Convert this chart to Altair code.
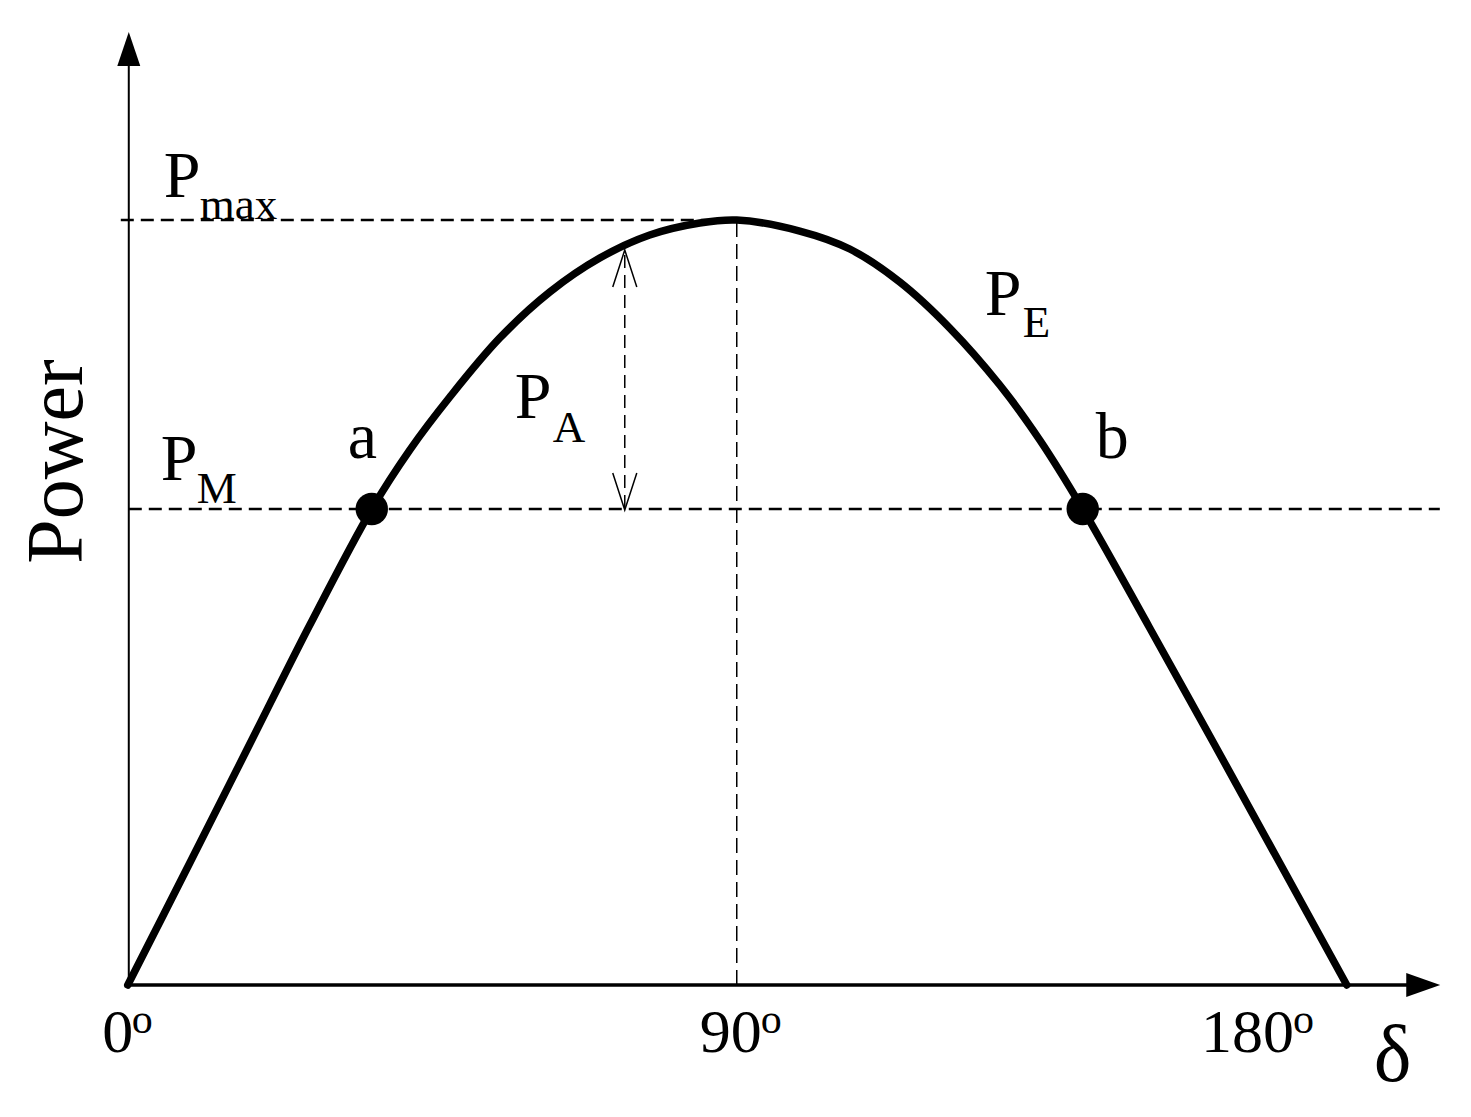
import altair as alt
import pandas as pd

# ---- data (delta in degrees, power normalised to Pmax = 1)
curve_delta = [0, 9.16, 18.03, 26.90, 36.06, 41.67, 47.59, 54.98, 62.37, 69.75, 77.14,
               84.53, 90.0, 99.31, 106.70, 114.09, 121.48, 128.87, 134.78, 141.13,
               151.03, 160.64, 170.25, 180.15]
curve_power = [0, 0.1595, 0.3150, 0.4706, 0.6222, 0.6993, 0.7686, 0.8458, 0.9059, 0.9503,
               0.9804, 0.9961, 1.0, 0.9856, 0.9621, 0.9190, 0.8588, 0.7843, 0.7124, 0.6222,
               0.4667, 0.3137, 0.1595, 0]
p_max = 1.0
p_m = 0.6222
point_names = ["a", "b"]
point_delta = [36.06, 141.13]
tick_labels = ["0", "90", "180"]

FONT = "Liberation Serif"
xs = alt.Scale(domain=[-17.7, 196.59], nice=False, zero=False)
ys = alt.Scale(domain=[-0.1542, 1.2771], nice=False, zero=False)
X = lambda f: alt.X(f, type="quantitative", scale=xs, axis=None)
Y = lambda f: alt.Y(f, type="quantitative", scale=ys, axis=None)

curve_df = pd.DataFrame({"d": curve_delta, "p": curve_power})
curve = alt.Chart(curve_df).mark_line(color="black", strokeWidth=7.5, strokeCap="round",
                                      strokeJoin="round", interpolate="catmull-rom").encode(
    x=X("d"), y=Y("p"), order="d:Q")

# axes lines
axes_df = pd.DataFrame({"x1": [0.15, 0.0], "x2": [0.15, 189.5],
                        "y1": [0.0, 0.0], "y2": [1.2013, 0.0], "w": [2.0, 3.5]})
axes = alt.Chart(axes_df).mark_rule(color="black").encode(
    x=X("x1"), x2="x2", y=Y("y1"), y2="y2",
    strokeWidth=alt.StrokeWidth("w:Q", scale=None))

arrow_y = alt.Chart(pd.DataFrame({"d": [0.15], "p": [1.2235]})).mark_point(
    shape="M-0.575,0.85L0.575,0.85L0,-0.85Z", size=1600, filled=True, color="black",
    opacity=1, strokeWidth=0).encode(x=X("d"), y=Y("p"))
arrow_x = alt.Chart(pd.DataFrame({"d": [191.45], "p": [0.0]})).mark_point(
    shape="M-0.85,-0.6L0.85,0L-0.85,0.6Z", size=1600, filled=True, color="black",
    opacity=1, strokeWidth=0).encode(x=X("d"), y=Y("p"))

# dashed guide lines
hdash_df = pd.DataFrame({"x1": [-1.03, 0.15], "x2": [90.0, 193.9], "y": [p_max, p_m]})
hdash = alt.Chart(hdash_df).mark_rule(color="black", strokeWidth=2.5, strokeDash=[13, 7]).encode(
    x=X("x1"), x2="x2", y=Y("y"))
vdash = alt.Chart(pd.DataFrame({"x": [90.0], "y1": [0.0], "y2": [p_max]})).mark_rule(
    color="black", strokeWidth=1.5, strokeDash=[15, 7]).encode(x=X("x"), y=Y("y1"), y2="y2")
pa_df = pd.DataFrame({"x": [73.45], "y1": [0.6235], "y2": [0.9608]})
pa_line = alt.Chart(pa_df).mark_rule(color="black", strokeWidth=1.5, strokeDash=[13, 7]).encode(
    x=X("x"), y=Y("y1"), y2="y2")
pa_top = alt.Chart(pd.DataFrame({"d": [73.45], "p": [0.9366]})).mark_point(
    shape="M-0.65,1L0,-1L0.65,1", size=1369, filled=False, color="black", opacity=1,
    strokeWidth=1.5).encode(x=X("d"), y=Y("p"))
pa_bot = alt.Chart(pd.DataFrame({"d": [73.45], "p": [0.6451]})).mark_point(
    shape="M-0.65,-1L0,1L0.65,-1", size=1369, filled=False, color="black", opacity=1,
    strokeWidth=1.5).encode(x=X("d"), y=Y("p"))

# operating points
pts_df = pd.DataFrame({"name": point_names, "d": point_delta, "p": [p_m, p_m]})
pts = alt.Chart(pts_df).mark_point(shape="circle", size=1050, filled=True, color="black",
                                   opacity=1).encode(x=X("d"), y=Y("p"))

# text annotations (text, delta, power, font size)
labels = [
    ("P", 5.32, 1.0301, 66), ("max", 10.64, 1.0010, 45),
    ("P", 4.88, 0.6601, 66), ("M", 10.20, 0.6301, 45),
    (point_names[0], 32.51, 0.6889, 66),
    ("P", 57.19, 0.7412, 66), ("A", 62.81, 0.7098, 45),
    ("P", 126.65, 0.8758, 66), ("E", 132.27, 0.8471, 45),
    (point_names[1], 143.05, 0.6889, 66),
    (tick_labels[0], -3.77, -0.0876, 62), ("o", 0.59, -0.0627, 42),
    (tick_labels[1], 84.53, -0.0876, 62), ("o", 93.55, -0.0627, 42),
    (tick_labels[2], 158.6, -0.0876, 62), ("o", 172.2, -0.0627, 42),
    ("δ", 184.14, -0.1255, 80),
]
lab_df = pd.DataFrame(labels, columns=["t", "d", "p", "fs"])
texts = alt.Chart(lab_df).mark_text(font=FONT, color="black", align="left",
                                    baseline="alphabetic").encode(
    x=X("d"), y=Y("p"), text="t:N", size=alt.Size("fs:Q", scale=None))

ytitle = alt.Chart(pd.DataFrame({"t": ["Power"], "d": [-6.80], "p": [0.6843]})).mark_text(
    font=FONT, color="black", align="center", baseline="alphabetic", angle=270, fontSize=80).encode(
    x=X("d"), y=Y("p"), text="t:N")

chart = alt.layer(axes, arrow_y, arrow_x, hdash, vdash, pa_line, pa_top, pa_bot,
                  curve, pts, texts, ytitle).properties(
    width=1450, height=1095, padding=0, autosize=alt.AutoSizeParams(type="none"),
    background="white"
).configure_view(stroke=None)

chart.save("out.html", embed_options={"renderer": "svg", "actions": False})
